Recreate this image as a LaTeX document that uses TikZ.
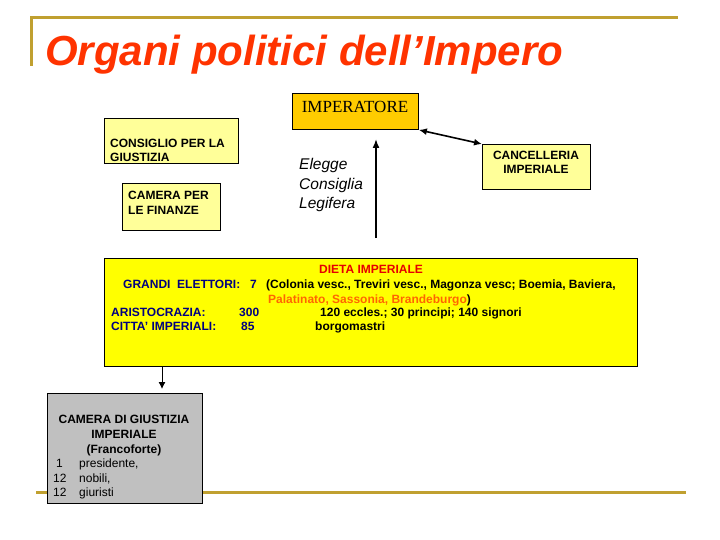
\documentclass[tikz,border=0pt]{standalone}
\usepackage{fontspec}
\setmainfont{Liberation Sans}
\newfontfamily\serifrm{Liberation Serif}
\usetikzlibrary{arrows.meta}
\definecolor{goldline}{RGB}{192,160,48}
\definecolor{titlered}{RGB}{255,51,0}
\definecolor{dietared}{RGB}{230,0,0}
\definecolor{orangetx}{RGB}{255,102,0}
\definecolor{navytx}{RGB}{0,0,128}
\definecolor{imperfill}{RGB}{255,204,0}
\definecolor{lightyel}{RGB}{255,255,153}
\definecolor{dietafill}{RGB}{255,255,0}
\definecolor{grayfill}{RGB}{192,192,192}
\tikzset{
  boxrect/.style={draw=black, line width=0.9pt, inner sep=0pt, anchor=north west},
  txt/.style={inner sep=0pt, anchor=base west, font=\fontsize{12}{12}\selectfont\bfseries},
  txtc/.style={inner sep=0pt, anchor=base, font=\fontsize{12}{12}\selectfont\bfseries},
  dtxt/.style={inner sep=0pt, anchor=base west, font=\fontsize{12}{12}\selectfont\bfseries},
  gtxt/.style={inner sep=0pt, anchor=base west, font=\fontsize{12}{12}\selectfont},
  itxt/.style={inner sep=0pt, anchor=base west, font=\fontsize{15.5}{15.5}\selectfont\itshape},
  arr/.style={line width=1.6pt, -{Latex[length=9pt,width=7pt]}},
  darr/.style={line width=1.6pt, {Latex[length=8pt,width=7pt]}-{Latex[length=8pt,width=7pt]}},
}
\begin{document}
\begin{tikzpicture}[x=1pt,y=-1pt]
\useasboundingbox (0,0) rectangle (720,540);
% decorative lines
\draw[goldline, line width=3pt] (30,18) -- (678,18);
\draw[goldline, line width=3pt] (31,18) -- (31,66);
\draw[goldline, line width=3pt] (36,492) -- (686,492);
% title
\node[inner sep=0pt, anchor=base west, text=titlered, font=\fontsize{42}{42}\selectfont\bfseries\itshape] (title) at (45,66) {Organi politici dell’Impero};
% IMPERATORE
\node[boxrect, fill=imperfill, minimum width=126pt, minimum height=36pt] (imp) at (292,93) {};
\node[inner sep=0pt, anchor=base, font=\serifrm\fontsize{17}{17}\selectfont] (impt) at (355,113) {IMPERATORE};
% CONSIGLIO PER LA GIUSTIZIA
\node[boxrect, fill=lightyel, minimum width=134pt, minimum height=45pt] (cons) at (104,118) {};
\node[txt] (cons1) at (110,147.5) {CONSIGLIO PER LA};
\node[txt] (cons2) at (110,161.5) {GIUSTIZIA};
% CAMERA PER LE FINANZE
\node[boxrect, fill=lightyel, minimum width=98pt, minimum height=47pt] (fin) at (122,183) {};
\node[txt] (fin1) at (128,199.5) {CAMERA PER};
\node[txt] (fin2) at (128,214.5) {LE FINANZE};
% Elegge ...
\node[itxt] (el1) at (299,170) {Elegge};
\node[itxt] (el2) at (299,189.5) {Consiglia};
\node[itxt] (el3) at (299,208.5) {Legifera};
% CANCELLERIA
\node[boxrect, fill=lightyel, minimum width=108pt, minimum height=45pt] (canc) at (482,144) {};
\node[txtc] (canc1) at (536,159.5) {CANCELLERIA};
\node[txtc] (canc2) at (536,173.5) {IMPERIALE};
% DIETA
\node[boxrect, fill=dietafill, minimum width=533pt, minimum height=108pt] (dieta) at (104,258) {};
\node[dtxt, text=dietared] (d0) at (319,273.5) {DIETA IMPERIALE};
\node[dtxt, text=navytx] (d1a) at (123,288.5) {GRANDI\ \ ELETTORI:};
\node[dtxt, text=navytx] (d1b) at (250,288.5) {7};
\node[dtxt] (d1c) at (266,288.5) {(Colonia vesc., Treviri vesc., Magonza vesc; Boemia, Baviera,};
\node[dtxt] (d2) at (268,303.5) {\textcolor{orangetx}{Palatinato, Sassonia, Brandeburgo})};
\node[dtxt, text=navytx] (d3a) at (111,316.5) {ARISTOCRAZIA:};
\node[dtxt, text=navytx] (d3b) at (239,316.5) {300};
\node[dtxt] (d3c) at (320,316.5) {120 eccles.; 30 principi; 140 signori};
\node[dtxt, text=navytx] (d4a) at (111,330.5) {CITTA’ IMPERIALI:};
\node[dtxt, text=navytx] (d4b) at (241,330.5) {85};
\node[dtxt] (d4c) at (315,330.5) {borgomastri};
% CAMERA DI GIUSTIZIA
\node[boxrect, fill=grayfill, minimum width=155pt, minimum height=110pt] (cam) at (47,393) {};
\node[txtc] (cam1) at (124,423.5) {CAMERA DI GIUSTIZIA};
\node[txtc] (cam2) at (124,438.5) {IMPERIALE};
\node[txtc] (cam3) at (124,453) {(Francoforte)};
\node[gtxt] (cam4a) at (56,467.5) {1};
\node[gtxt] (cam4b) at (79,467.5) {presidente,};
\node[gtxt] (cam5a) at (53,482) {12};
\node[gtxt] (cam5b) at (79,482) {nobili,};
\node[gtxt] (cam6a) at (53,496) {12};
\node[gtxt] (cam6b) at (79,496) {giuristi};
% connectors
\coordinate (vstart) at (376,238);
\coordinate (vend) at (376,139);
\draw[arr] (vstart) -- (vend);
\draw[darr] (imp.south east) -- (canc.north west);
\coordinate (gend) at (162,389);
\draw[line width=0.9pt, -{Latex[length=7pt,width=7pt]}] (dieta.south -| gend) -- (gend);
\end{tikzpicture}
\end{document}
